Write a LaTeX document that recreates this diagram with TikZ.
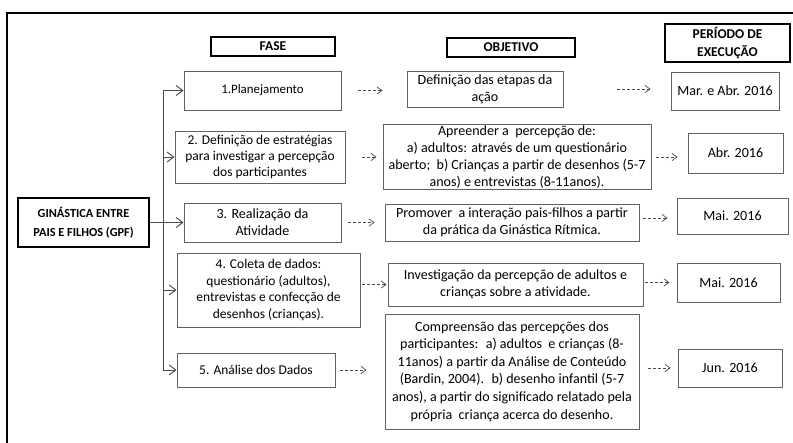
\documentclass[tikz,border=0pt]{standalone}
\usepackage{fontspec}
\setmainfont{Carlito}
\usetikzlibrary{arrows.meta}
\definecolor{boxgray}{HTML}{626262}
\definecolor{wiregray}{HTML}{4A4A4A}
\tikzset{
  phasebox/.style={draw=boxgray, line width=0.8pt, align=center, fill=white, inner sep=1pt, font=\fontsize{11.5}{14}\selectfont},
  goalbox/.style={phasebox, font=\fontsize{12}{14.6}\selectfont},
  headbox/.style={draw=black, line width=2pt, align=center, fill=white, inner sep=1pt, font=\fontsize{11.5}{14}\selectfont\bfseries},
  treearrow/.style={-{Straight Barb[length=2mm,width=3mm]}, draw=wiregray, line width=0.8pt},
  treeline/.style={draw=wiregray, line width=0.8pt},
  dasharrow/.style={-{Straight Barb[length=1.5mm,width=2.2mm]}, draw=wiregray, line width=0.6pt, dash pattern=on 0.9mm off 0.6mm}
}
\begin{document}
\begin{tikzpicture}[x=0.3mm, y=-0.3mm]
  \useasboundingbox (0,0) rectangle (793,443);
  % outer frame
  \draw[line width=2.2pt] (7,460) |- (810,13);
  % column heads
  \node[headbox, minimum width=37.2mm, minimum height=5.7mm] (fase) at (273,46.5) {FASE};
  \node[headbox, minimum width=38.4mm, minimum height=5.7mm] (objetivo) at (511,47.5) {OBJETIVO};
  \node[headbox, minimum width=37.5mm, minimum height=11.4mm] (periodo) at (727.5,43) {PERÍODO DE\\[1pt]EXECUÇÃO};
  % root
  \node[headbox, font=\fontsize{10.5}{14}\selectfont\bfseries, minimum width=39.3mm, minimum height=14.7mm] (gpf) at (83.5,222.5) {GINÁSTICA ENTRE\\[2pt]PAIS E FILHOS (GPF)};
  % phases
  \node[phasebox, font=\fontsize{11}{14}\selectfont, minimum width=47.1mm, minimum height=11.7mm] (p1) at (262.5,90.5) {1.Planejamento};
  \node[phasebox, minimum width=51mm, minimum height=15.6mm] (p2) at (260,157) {2. Definição de estratégias\\para investigar a percepção\\dos participantes};
  \node[goalbox, minimum width=47.1mm, minimum height=11.7mm] (p3) at (262.5,222.5) {3. Realização da\\Atividade};
  \node[phasebox, minimum width=54.9mm, minimum height=22.2mm] (p4) at (268.5,290) {4. Coleta de dados:\\questionário (adultos),\\entrevistas e confecção de\\desenhos (crianças).};
  \node[phasebox, minimum width=47.4mm, minimum height=10.2mm] (p5) at (256,370) {5. Análise dos Dados};
  % objectives
  \node[goalbox, minimum width=46.8mm, minimum height=10.8mm] (o1) at (485,89) {Definição das etapas da\\ação};
  \node[goalbox, minimum width=80.4mm, minimum height=19.2mm] (o2) at (517,157) {Apreender a \ percepção de:\\a) adultos: através de um questionário\\aberto; \ b) Crianças a partir de desenhos (5-7\\anos) e entrevistas (8-11anos).};
  \node[goalbox, minimum width=76.2mm, minimum height=11.1mm] (o3) at (512,222.5) {Promover \ a interação pais-filhos a partir\\da prática da Ginástica Rítmica.};
  \node[goalbox, minimum width=76.5mm, minimum height=12.9mm] (o4) at (515.5,284.5) {Investigação da percepção de adultos e\\crianças sobre a atividade.};
  \node[goalbox, font=\fontsize{12}{15}\selectfont, minimum width=76.2mm, minimum height=34.5mm] (o5) at (512,371.5) {Compreensão das percepções dos\\participantes: \ a) adultos \ e crianças (8-\\11anos) a partir da Análise de Conteúdo\\(Bardin, 2004). \ b) desenho infantil (5-7\\anos), a partir do significado relatado pela\\própria \ criança acerca do desenho.};
  % periods
  \node[goalbox, minimum width=32.4mm, minimum height=11.4mm] (t1) at (725,91) {Mar. e Abr. 2016};
  \node[goalbox, minimum width=28.5mm, minimum height=12mm] (t2) at (735.5,153) {Abr. 2016};
  \node[goalbox, minimum width=33.3mm, minimum height=10.8mm] (t3) at (732.5,216) {Mai. 2016};
  \node[goalbox, minimum width=30.9mm, minimum height=11.7mm] (t4) at (728.5,282.5) {Mai. 2016};
  \node[goalbox, minimum width=31.2mm, minimum height=11.4mm] (t5) at (730,368) {Jun. 2016};
  % tree
  \coordinate (fork) at (163,222.5);
  \draw[treeline] (gpf.east) -- (fork);
  \draw[treeline] (fork |- p1.west) -- (fork |- p5.west);
  \draw[treearrow] (fork |- p1.west) -- (p1.west);
  \draw[treearrow] (fork |- p2.west) -- (p2.west);
  \draw[treearrow] (fork) -- (p3.west);
  \draw[treearrow] (fork |- p4.west) -- (p4.west);
  \draw[treearrow] (fork |- p5.west) -- (p5.west);
  % phase -> objective
  \draw[dasharrow, shorten <=5.1mm, shorten >=7.2mm] (p1.east) -- (p1.east -| o1.west);
  \draw[dasharrow, shorten <=5.1mm, shorten >=1.8mm] (p2.east) -- (p2.east -| o2.west);
  \draw[dasharrow, shorten <=2.1mm, shorten >=3mm] (p3.east) -- (p3.east -| o3.west);
  \draw[dasharrow, shorten <=0.6mm, shorten >=0.3mm] (p4.east |- o4.west) -- (o4.west);
  \draw[dasharrow, shorten <=1.5mm, shorten >=5.4mm] (p5.east) -- (p5.east -| o5.west);
  % objective -> period
  \draw[dasharrow, shorten <=16.2mm, shorten >=6mm] (o1.east) -- (o1.east -| t1.west);
  \draw[dasharrow, shorten <=1.5mm, shorten >=3mm] (o2.east) -- (o2.east -| t2.west);
  \draw[dasharrow, shorten <=1.2mm, shorten >=2.7mm] (o3.east |- 0,218) -- (t3.west |- 0,218);
  \draw[dasharrow, shorten <=0.6mm, shorten >=2.1mm] (o4.east |- t4.west) -- (t4.west);
  \draw[dasharrow, shorten <=2.7mm, shorten >=2.1mm] (o5.east |- t5.west) -- (t5.west);
\end{tikzpicture}
\end{document}
